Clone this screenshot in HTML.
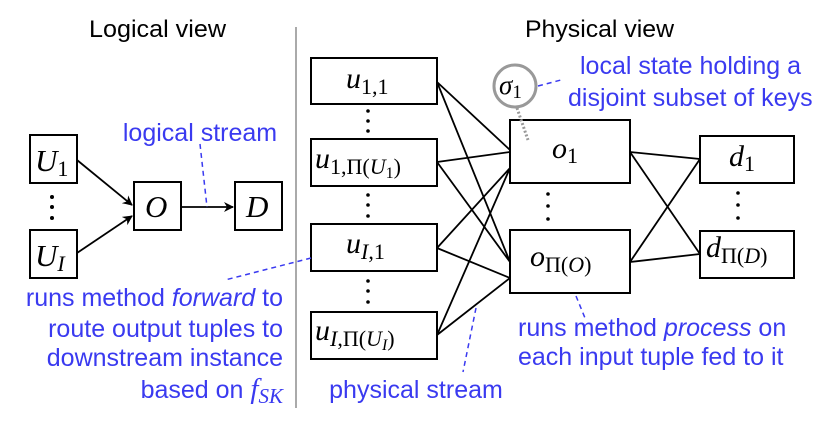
<!DOCTYPE html>
<html><head><meta charset="utf-8"><style>body{margin:0;background:#fff}svg{display:block}</style></head><body>
<svg width="831" height="426" viewBox="0 0 831 426" xmlns="http://www.w3.org/2000/svg">
<defs><marker id="ar" markerWidth="10" markerHeight="10" refX="9" refY="5" orient="auto" markerUnits="userSpaceOnUse"><path d="M0,0 L10,5 L0,10 L3,5 z" fill="#000"/></marker></defs>
<g font-family="Liberation Sans, sans-serif" font-size="24" fill="#000">
<text x="89" y="37" textLength="137" lengthAdjust="spacingAndGlyphs">Logical view</text>
<text x="525" y="37" textLength="149" lengthAdjust="spacingAndGlyphs">Physical view</text>
</g>
<line x1="296" y1="27" x2="296" y2="408" stroke="#aaa" stroke-width="2"/>
<g fill="#fff" stroke="#000" stroke-width="2">
<rect x="30" y="135" width="47" height="48"/><rect x="30" y="230" width="47" height="48"/>
<rect x="134" y="182" width="47" height="48"/><rect x="235" y="182" width="47" height="48"/>
<rect x="311" y="58" width="126" height="46"/><rect x="311" y="139" width="126" height="47"/>
<rect x="311" y="224" width="126" height="47"/><rect x="311" y="312" width="126" height="47"/>
<rect x="510" y="120" width="120" height="63"/><rect x="510" y="230" width="120" height="63"/>
<rect x="700" y="136" width="94" height="47"/><rect x="700" y="231" width="94" height="47"/>
</g>
<g stroke="#000" stroke-width="1.8" fill="none">
<line x1="77" y1="160" x2="132" y2="205" marker-end="url(#ar)"/>
<line x1="77" y1="253" x2="132" y2="216" marker-end="url(#ar)"/>
<line x1="181" y1="207" x2="233" y2="207" marker-end="url(#ar)"/>
<path d="M437,82 L510,150 M437,82 L510,262 M437,162 L510,152 M437,162 L510,262 M437,248 L510,168 M437,248 L510,278 M437,335 L510,168 M437,335 L510,278"/>
<path d="M630,152 L700,159 M630,152 L700,254 M630,262 L700,159 M630,262 L700,254"/>
</g>
<g fill="#000">
<circle cx="52" cy="197" r="2"/><circle cx="52" cy="207" r="2"/><circle cx="52" cy="218" r="2"/>
<circle cx="368" cy="111" r="1.8"/><circle cx="368" cy="121" r="1.8"/><circle cx="368" cy="131" r="1.8"/>
<circle cx="368" cy="195" r="1.8"/><circle cx="368" cy="205" r="1.8"/><circle cx="368" cy="216" r="1.8"/>
<circle cx="368" cy="281" r="1.8"/><circle cx="368" cy="291" r="1.8"/><circle cx="368" cy="302" r="1.8"/>
<circle cx="548" cy="194" r="1.8"/><circle cx="548" cy="206" r="1.8"/><circle cx="548" cy="219" r="1.8"/>
<circle cx="738" cy="193" r="1.8"/><circle cx="738" cy="205" r="1.8"/><circle cx="738" cy="218" r="1.8"/>
</g>
<g font-family="Liberation Serif, serif" font-style="italic" fill="#000">
<text x="35" y="171" font-size="31">U<tspan font-style="normal" font-size="22" dy="5">1</tspan></text>
<text x="35" y="266" font-size="31">U<tspan font-size="22" dy="5">I</tspan></text>
<text x="145" y="217" font-size="31">O</text>
<text x="246" y="217" font-size="31">D</text>
<text x="346" y="88" font-size="30">u<tspan font-style="normal" font-size="22" dy="6">1,1</tspan></text>
<text x="315" y="168" font-size="30">u<tspan font-style="normal" font-size="22" dy="6">1,Π(<tspan font-style="italic">U</tspan><tspan font-size="16" dy="4">1</tspan><tspan dy="-4">)</tspan></tspan></text>
<text x="346" y="253" font-size="30">u<tspan font-size="22" dy="6">I</tspan><tspan font-style="normal" font-size="22">,1</tspan></text>
<text x="315" y="340" font-size="30">u<tspan font-size="22" dy="6">I</tspan><tspan font-style="normal" font-size="22">,Π(<tspan font-style="italic">U</tspan><tspan font-style="italic" font-size="16" dy="4">I</tspan><tspan dy="-4">)</tspan></tspan></text>
<text x="552" y="158" font-size="30">o<tspan font-style="normal" font-size="22" dy="5">1</tspan></text>
<text x="530" y="266" font-size="30">o<tspan font-style="normal" font-size="22" dy="6">Π(<tspan font-style="italic">O</tspan>)</tspan></text>
<text x="729" y="166" font-size="30">d<tspan font-style="normal" font-size="22" dy="5">1</tspan></text>
<text x="706" y="257" font-size="30">d<tspan font-style="normal" font-size="22" dy="6">Π(<tspan font-style="italic">D</tspan>)</tspan></text>
</g>
<circle cx="515" cy="86" r="21" fill="#fff" stroke="#999" stroke-width="3"/>
<text x="499" y="94" font-family="Liberation Serif, serif" font-style="italic" font-size="27">σ<tspan font-style="normal" font-size="19" dy="4">1</tspan></text>
<line x1="517" y1="108" x2="528" y2="140" stroke="#999" stroke-width="3" stroke-dasharray="2,2"/>
<g stroke="#3a3af0" stroke-width="1.5" stroke-dasharray="5,4" fill="none">
<line x1="200" y1="144" x2="207" y2="207"/>
<line x1="311" y1="258" x2="225" y2="280"/>
<line x1="476" y1="308" x2="463" y2="372"/>
<line x1="576" y1="296" x2="585" y2="318"/>
<line x1="538" y1="86" x2="561" y2="80"/>
</g>
<g font-family="Liberation Sans, sans-serif" font-size="25" fill="#3a3af0">
<text x="200" y="141" text-anchor="middle">logical stream</text>
<text x="283" y="306" text-anchor="end">runs method <tspan font-style="italic">forward</tspan> to</text>
<text x="283" y="337" text-anchor="end">route output tuples to</text>
<text x="283" y="366" text-anchor="end">downstream instance</text>
<text x="283" y="398" text-anchor="end">based on <tspan font-family="Liberation Serif, serif" font-style="italic" font-size="29">f<tspan font-size="21" dy="5">SK</tspan></tspan></text>
<text x="416" y="398" text-anchor="middle">physical stream</text>
<text x="518" y="336">runs method <tspan font-style="italic">process</tspan> on</text>
<text x="518" y="365">each input tuple fed to it</text>
<text x="580" y="74">local state holding a</text>
<text x="568" y="106">disjoint subset of keys</text>
</g>
</svg>
</body></html>
